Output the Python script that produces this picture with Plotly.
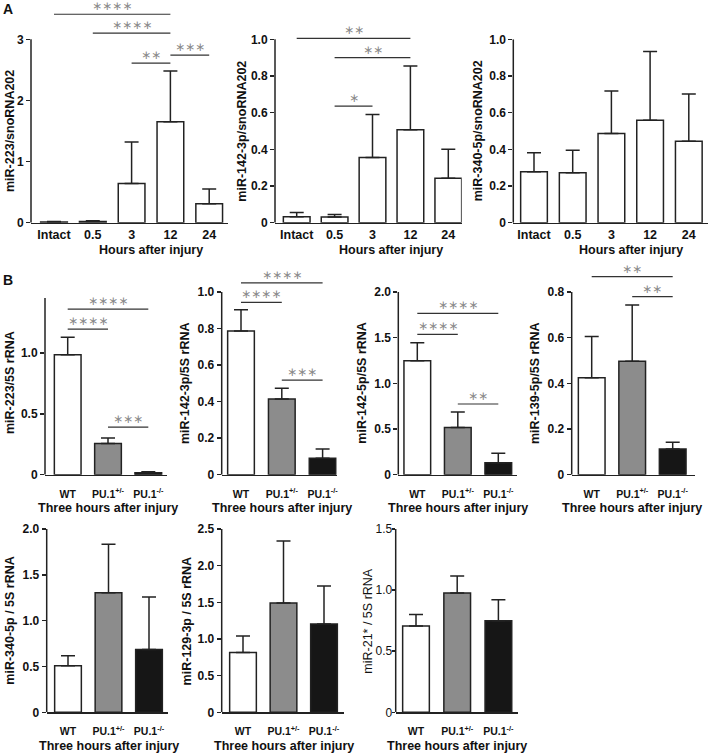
import plotly.graph_objects as go

# ---------------- data ----------------
hours = ["Intact", "0.5", "3", "12", "24"]
genotypes = ["WT", "PU.1<sup>+/-</sup>", "PU.1<sup>-/-</sup>"]

# Panel A (hours after injury)
a_mir223_mean = [0.012, 0.02, 0.64, 1.65, 0.31]
a_mir223_err = [0.008, 0.01, 0.68, 0.83, 0.24]
a_mir142_3p_mean = [0.033, 0.031, 0.356, 0.507, 0.243]
a_mir142_3p_err = [0.022, 0.014, 0.234, 0.348, 0.157]
a_mir340_mean = [0.278, 0.273, 0.487, 0.558, 0.444]
a_mir340_err = [0.104, 0.122, 0.231, 0.375, 0.258]

# Panel B (three hours after injury)
b_mir223_mean = [0.985, 0.257, 0.016]
b_mir223_err = [0.143, 0.045, 0.009]
b_mir142_3p_mean = [0.786, 0.415, 0.09]
b_mir142_3p_err = [0.117, 0.058, 0.05]
b_mir142_5p_mean = [1.248, 0.518, 0.131]
b_mir142_5p_err = [0.197, 0.168, 0.103]
b_mir139_mean = [0.425, 0.497, 0.113]
b_mir139_err = [0.18, 0.246, 0.029]
b_mir340_mean = [0.509, 1.305, 0.684]
b_mir340_err = [0.109, 0.528, 0.574]
b_mir129_mean = [0.814, 1.49, 1.205]
b_mir129_err = [0.226, 0.846, 0.518]
b_mir21_mean = [0.706, 0.976, 0.75]
b_mir21_err = [0.094, 0.139, 0.172]

# significance brackets: (from index, to index, height, label)
a_mir223_sig = [(0, 3, 3.41, "∗∗∗∗"), (1, 3, 3.10, "∗∗∗∗"), (2, 3, 2.61, "∗∗"), (3, 4, 2.74, "∗∗∗")]
a_mir142_3p_sig = [(0, 3, 1.005, "∗∗"), (1, 3, 0.90, "∗∗"), (1, 2, 0.636, "∗")]
b_mir223_sig = [(0, 2, 1.36, "∗∗∗∗"), (0, 1, 1.196, "∗∗∗∗"), (1, 2, 0.39, "∗∗∗")]
b_mir142_3p_sig = [(0, 2, 1.05, "∗∗∗∗"), (0, 1, 0.943, "∗∗∗∗"), (1, 2, 0.518, "∗∗∗")]
b_mir142_5p_sig = [(0, 2, 1.766, "∗∗∗∗"), (0, 1, 1.536, "∗∗∗∗"), (1, 2, 0.774, "∗∗")]
b_mir139_sig = [(0, 2, 0.867, "∗∗"), (1, 2, 0.78, "∗∗")]

# y ticks
ticks_0_3 = [0, 1, 2, 3]
ticks_0_3_text = ["0", "1", "2", "3"]
ticks_0_1 = [0, 0.2, 0.4, 0.6, 0.8, 1.0]
ticks_0_1_text = ["0", "0.2", "0.4", "0.6", "0.8", "1.0"]
ticks_0_08 = [0, 0.2, 0.4, 0.6, 0.8]
ticks_0_08_text = ["0", "0.2", "0.4", "0.6", "0.8"]
ticks_0_15 = [0, 0.5, 1.0, 1.5]
ticks_0_15_text = ["0", "0.5", "1.0", "1.5"]
ticks_0_2 = [0, 0.5, 1.0, 1.5, 2.0]
ticks_0_2_text = ["0", "0.5", "1.0", "1.5", "2.0"]
ticks_0_25 = [0, 0.5, 1.0, 1.5, 2.0, 2.5]
ticks_0_25_text = ["0", "0.5", "1.0", "1.5", "2.0", "2.5"]

WHITE, GRAY, BLACK = "#ffffff", "#8c8c8c", "#161616"
a_fills = [WHITE] * 5
b_fills = [WHITE, GRAY, BLACK]

# ---------------- styling / layout ----------------
W, H = 708, 755
FONT = "Liberation Sans, Arial, sans-serif"
STAR_FONT = "DejaVu Sans"
AX = "#222222"
TXT = "#111111"

panels = [
    dict(cats=hours, mean=a_mir223_mean, err=a_mir223_err, fill=a_fills, sig=a_mir223_sig,
         yt=ticks_0_3, ytt=ticks_0_3_text, ytitle="miR-223/snoRNA202", xtitle="Hours after injury",
         xl=31, c0=54, s=38.8, xr=228, y0=222.7, ppu=61.13, top=3.5, ytx=10, yty=131, xty=250, xtix=2.5, std=0, xfs=12.5),
    dict(cats=hours, mean=a_mir142_3p_mean, err=a_mir142_3p_err, fill=a_fills, sig=a_mir142_3p_sig,
         yt=ticks_0_1, ytt=ticks_0_1_text, ytitle="miR-142-3p/snoRNA202", xtitle="Hours after injury",
         xl=275, c0=296.7, s=37.9, xr=461.7, y0=222.7, ppu=183.4, top=1.07, ytx=241.7, yty=131, xty=250, xtix=2.5, std=0, xfs=12.5),
    dict(cats=hours, mean=a_mir340_mean, err=a_mir340_err, fill=a_fills, sig=[],
         yt=ticks_0_1, ytt=ticks_0_1_text, ytitle="miR-340-5p/snoRNA202", xtitle="Hours after injury",
         xl=513.3, c0=534, s=38.7, xr=708, y0=222.7, ppu=183.4, top=1.0, ytx=478.3, yty=131, xty=250, xtix=2.5, std=0, xfs=12.5),
    dict(cats=genotypes, mean=b_mir223_mean, err=b_mir223_err, fill=b_fills, sig=b_mir223_sig,
         yt=ticks_0_15, ytt=ticks_0_15_text, ytitle="miR-223/5S rRNA", xtitle="Three hours after injury",
         xl=45, c0=67.7, s=40.3, xr=166.7, y0=474.7, ppu=121.8, top=1.45, ytx=10, yty=383, xty=508.3, xtix=1, std=9, xfs=10.5),
    dict(cats=genotypes, mean=b_mir142_3p_mean, err=b_mir142_3p_err, fill=b_fills, sig=b_mir142_3p_sig,
         yt=ticks_0_1, ytt=ticks_0_1_text, ytitle="miR-142-3p/5S rRNA", xtitle="Three hours after injury",
         xl=221.7, c0=241, s=40.8, xr=336.7, y0=474.7, ppu=182.7, top=1.07, ytx=185, yty=383, xty=508.3, xtix=1, std=9, xfs=10.5),
    dict(cats=genotypes, mean=b_mir142_5p_mean, err=b_mir142_5p_err, fill=b_fills, sig=b_mir142_5p_sig,
         yt=ticks_0_2, ytt=ticks_0_2_text, ytitle="miR-142-5p/5S rRNA", xtitle="Three hours after injury",
         xl=398.3, c0=417.3, s=40.5, xr=516.7, y0=474.7, ppu=91.35, top=2.0, ytx=361.7, yty=383, xty=508.3, xtix=1, std=9, xfs=10.5),
    dict(cats=genotypes, mean=b_mir139_mean, err=b_mir139_err, fill=b_fills, sig=b_mir139_sig,
         yt=ticks_0_08, ytt=ticks_0_08_text, ytitle="miR-139-5p/5S rRNA", xtitle="Three hours after injury",
         xl=571.7, c0=591.7, s=40.5, xr=695, y0=474.7, ppu=228.4, top=0.9, ytx=535, yty=383, xty=508.3, xtix=1, std=9, xfs=10.5),
    dict(cats=genotypes, mean=b_mir340_mean, err=b_mir340_err, fill=b_fills, sig=[],
         yt=ticks_0_2, ytt=ticks_0_2_text, ytitle="miR-340-5p / 5S rRNA", xtitle="Three hours after injury",
         xl=46.7, c0=68, s=40.5, xr=168.3, y0=712.3, ppu=91.65, top=2.0, ytx=10, yty=620.7, xty=745.7, xtix=1, std=9, xfs=10.5),
    dict(cats=genotypes, mean=b_mir129_mean, err=b_mir129_err, fill=b_fills, sig=[],
         yt=ticks_0_25, ytt=ticks_0_25_text, ytitle="miR-129-3p / 5S rRNA", xtitle="Three hours after injury",
         xl=221.7, c0=243, s=40.5, xr=344.3, y0=712.3, ppu=73.32, top=2.5, ytx=186.7, yty=620.7, xty=745.7, xtix=1, std=9, xfs=10.5),
    dict(cats=genotypes, mean=b_mir21_mean, err=b_mir21_err, fill=b_fills, sig=[],
         yt=ticks_0_15, ytt=ticks_0_15_text, ytitle="miR-21* / 5S rRNA", xtitle="Three hours after injury",
         xl=395.7, c0=416, s=41.2, xr=518.3, y0=712.3, ppu=122.2, top=1.5, ytx=368, yty=620.7, xty=745.7, xtix=1, std=9, xfs=10.5,
         weight="normal", ytl=3, ystd=-3),
]

BAR_PX = 26.7

fig = go.Figure()
layout = dict(width=W, height=H, margin=dict(l=0, r=0, t=0, b=0, pad=0, autoexpand=False),
              paper_bgcolor="white", plot_bgcolor="white", showlegend=False,
              font=dict(family=FONT, color=TXT))
shapes, annotations = [], []

for k, p in enumerate(panels, start=1):
    suf = "" if k == 1 else str(k)
    xa, ya = "x" + suf, "y" + suf
    n = len(p["cats"])
    wt = p.get("weight", "bold")
    fig.add_trace(go.Bar(
        x=p["cats"], y=p["mean"], width=BAR_PX / p["s"],
        marker=dict(color=p["fill"], line=dict(color=AX, width=1.5)),
        error_y=dict(type="data", array=p["err"], arrayminus=[0] * n, symmetric=False,
                     color=AX, thickness=1.5, width=7),
        xaxis=xa, yaxis=ya, hoverinfo="skip"))
    xr0 = (p["xl"] - p["c0"]) / p["s"]
    xr1 = (p["xr"] - p["c0"]) / p["s"]
    top_px = p["y0"] - p["top"] * p["ppu"]
    layout["xaxis" + suf] = dict(
        domain=[p["xl"] / W, p["xr"] / W], anchor=ya, type="category", range=[xr0, xr1],
        showline=True, linecolor=AX, linewidth=1.5, ticks="", showgrid=False, zeroline=False,
        tickfont=dict(family=FONT, size=p["xfs"], color=TXT, weight="bold"),
        ticklabelstandoff=p["std"], fixedrange=True, automargin=False)
    layout["yaxis" + suf] = dict(
        domain=[(H - p["y0"]) / H, (H - top_px) / H], anchor=xa, range=[0, p["top"]],
        tickmode="array", tickvals=p["yt"], ticktext=p["ytt"],
        ticks="outside", ticklen=p.get("ytl", 4), tickwidth=1.5, tickcolor=AX,
        ticklabelstandoff=p.get("ystd", 0),
        showline=False, showgrid=False, zeroline=False,
        tickfont=dict(family=FONT, size=12, color=TXT, weight=wt), fixedrange=True, automargin=False)
    # y axis line from 0 to top tick
    shapes.append(dict(type="line", xref=xa + " domain", yref=ya, x0=0, x1=0,
                       y0=0, y1=max(p["yt"]), line=dict(color=AX, width=1.5)))
    # significance brackets
    for (i, j, yv, lab) in p["sig"]:
        shapes.append(dict(type="line", xref=xa, yref=ya, x0=i, x1=j, y0=yv, y1=yv,
                           line=dict(color="#333333", width=1.2)))
        annotations.append(dict(xref=xa, yref=ya, x=(i + j) / 2, y=yv, text=lab,
                                showarrow=False, yanchor="bottom", xanchor="center", yshift=-1,
                                font=dict(family=STAR_FONT, size=12, color="#8a8a8a")))
    # y title
    annotations.append(dict(xref="paper", yref="paper", x=p["ytx"] / W, y=(H - p["yty"]) / H,
                            text=p["ytitle"], textangle=-90, showarrow=False,
                            xanchor="center", yanchor="middle",
                            font=dict(family=FONT, size=12.5, color=TXT, weight=wt)))
    # x title
    annotations.append(dict(xref=xa, yref="paper", x=p["xtix"], y=(H - p["xty"]) / H,
                            text=p["xtitle"], showarrow=False, xanchor="center", yanchor="middle",
                            font=dict(family=FONT, size=12.5, color=TXT, weight="bold")))

annotations.append(dict(xref="paper", yref="paper", x=8 / W, y=(H - 9) / H, text="A",
                        showarrow=False, xanchor="center", yanchor="middle",
                        font=dict(family=FONT, size=14, color=TXT, weight="bold")))
annotations.append(dict(xref="paper", yref="paper", x=8 / W, y=(H - 280) / H, text="B",
                        showarrow=False, xanchor="center", yanchor="middle",
                        font=dict(family=FONT, size=14, color=TXT, weight="bold")))

layout["shapes"] = shapes
layout["annotations"] = annotations
layout["bargap"] = 0
fig.update_layout(**layout)
fig.write_html("out.html", config={"displayModeBar": False, "staticPlot": True},
               post_script="document.body.style.margin='0';document.body.style.padding='0';"
                           "document.body.style.overflow='hidden';")
